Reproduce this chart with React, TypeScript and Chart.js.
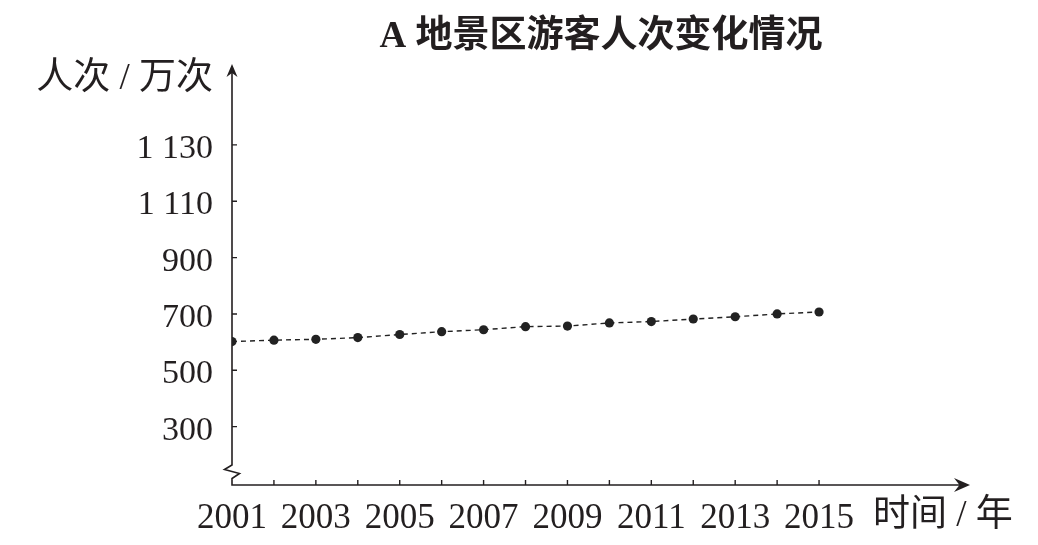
import React, { useEffect, useRef } from "react";
import { Chart, registerables } from "chart.js";

Chart.register(...registerables);

const titleText = "A 地景区游客人次变化情况";
const yAxisTitle = "人次 / 万次";
const xAxisTitle = "时间 / 年";

const years = [2001, 2002, 2003, 2004, 2005, 2006, 2007, 2008, 2009, 2010, 2011, 2012, 2013, 2014, 2015];
const visitors = [602, 607, 610, 616, 627, 637, 644, 655, 657, 668, 673, 682, 690, 700, 707];

const yTickValues = [300, 500, 700, 900, 1100, 1300];
const yTickLabels = ["300", "500", "700", "900", "1 110", "1 130"];

const INK = "#231f20";
const SERIF = '"Liberation Serif", "Noto Sans CJK SC", serif';

const axesPlugin = {
  id: "axesDecor",
  beforeDatasetsDraw(chart: any) {
    const { ctx, chartArea, scales } = chart;
    const { left, right, top, bottom } = chartArea;
    const x = scales.x;
    const y = scales.y;
    ctx.save();
    ctx.strokeStyle = INK;
    ctx.fillStyle = INK;
    ctx.lineWidth = 1.6;
    ctx.lineJoin = "miter";

    // y axis with break, then x axis
    ctx.beginPath();
    ctx.moveTo(left, top + 8);
    ctx.lineTo(left, bottom - 20);
    ctx.lineTo(left - 7.5, bottom - 15.5);
    ctx.lineTo(left + 7.5, bottom - 11.5);
    ctx.lineTo(left, bottom - 6.5);
    ctx.lineTo(left, bottom);
    ctx.lineTo(right - 10, bottom);
    ctx.stroke();

    // arrow heads
    ctx.beginPath();
    ctx.moveTo(left, top);
    ctx.lineTo(left - 5.5, top + 13);
    ctx.lineTo(left, top + 9);
    ctx.lineTo(left + 5.5, top + 13);
    ctx.closePath();
    ctx.fill();

    ctx.beginPath();
    ctx.moveTo(right, bottom);
    ctx.lineTo(right - 16, bottom - 7);
    ctx.lineTo(right - 10.5, bottom);
    ctx.lineTo(right - 16, bottom + 7);
    ctx.closePath();
    ctx.fill();

    // tick marks
    ctx.lineWidth = 1.4;
    ctx.beginPath();
    years.forEach((v, i) => {
      if (i === 0) return;
      const px = x.getPixelForValue(v);
      ctx.moveTo(px, bottom);
      ctx.lineTo(px, bottom - 5);
    });
    yTickValues.forEach((v) => {
      const py = y.getPixelForValue(v);
      ctx.moveTo(left, py);
      ctx.lineTo(left + 5, py);
    });
    ctx.stroke();

    // axis titles
    ctx.font = "37px " + SERIF;
    ctx.textBaseline = "middle";
    ctx.textAlign = "right";
    ctx.fillText(yAxisTitle, left - 19, top + 15);
    ctx.textAlign = "left";
    ctx.fillText(xAxisTitle, right - 97, bottom + 31);
    ctx.restore();
  },
};

export default function App() {
  const canvasRef = useRef<HTMLCanvasElement | null>(null);

  useEffect(() => {
    const canvas = canvasRef.current;
    if (!canvas) return;
    const chart = new Chart(canvas, {
      type: "line",
      data: {
        datasets: [
          {
            data: years.map((yr, i) => ({ x: yr, y: visitors[i] })),
            borderColor: "#222",
            borderWidth: 1.4,
            borderDash: [5, 4],
            pointRadius: 4.6,
            pointBackgroundColor: "#222",
            pointBorderColor: "#222",
            pointBorderWidth: 0,
            tension: 0,
            fill: false,
          },
        ],
      },
      options: {
        responsive: false,
        animation: false,
        devicePixelRatio: 1,
        layout: { autoPadding: false, padding: { left: 0, right: 68, top: 0, bottom: 0 } },
        plugins: {
          legend: { display: false },
          tooltip: { enabled: false },
          title: {
            display: true,
            text: titleText,
            fullSize: false,
            color: INK,
            font: { family: SERIF, size: 37, weight: "bold", lineHeight: 1.2 },
            padding: { top: 14.8, bottom: 4.8 },
          },
        },
        scales: {
          x: {
            type: "linear",
            min: 2001,
            max: 2018.6,
            grid: { display: false },
            border: { display: false },
            afterFit: (s: any) => {
              s.height = 60;
            },
            afterBuildTicks: (s: any) => {
              s.ticks = years.map((v) => ({ value: v }));
            },
            ticks: {
              autoSkip: false,
              maxRotation: 0,
              padding: 4.5,
              color: INK,
              font: { family: SERIF, size: 35 },
              callback: (v: any) => ((Number(v) - years[0]) % 2 === 0 ? String(v) : ""),
            },
          },
          y: {
            type: "linear",
            min: 93,
            max: 1587,
            grid: { display: false },
            border: { display: false },
            afterFit: (s: any) => {
              s.width = 232;
            },
            afterBuildTicks: (s: any) => {
              s.ticks = yTickValues.map((v) => ({ value: v }));
            },
            ticks: {
              autoSkip: false,
              padding: 11,
              labelOffset: 4,
              color: INK,
              font: { family: SERIF, size: 34 },
              callback: (v: any) => {
                const idx = yTickValues.indexOf(Number(v));
                return idx >= 0 ? yTickLabels[idx] : "";
              },
            },
          },
        },
      },
      plugins: [axesPlugin],
    } as any);
    return () => chart.destroy();
  }, []);

  return (
    <div style={{ position: "fixed", left: 0, top: 0, width: 1038, height: 545, background: "#fff" }}>
      <canvas ref={canvasRef} width={1038} height={545} style={{ display: "block" }} />
    </div>
  );
}
